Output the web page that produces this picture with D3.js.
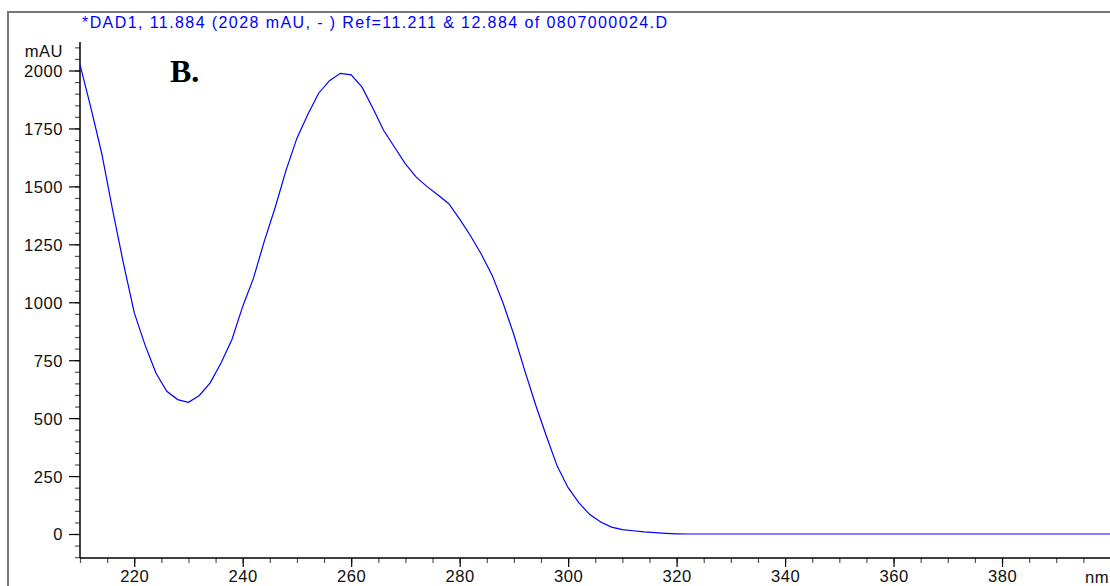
<!DOCTYPE html>
<html lang="en">
<head>
  <meta charset="UTF-8" />
  <title>DAD1 spectrum</title>
  <script src="https://d3js.org/d3.v7.min.js" charset="utf-8"></script>
  <style type="text/css">
  body { margin: 0; background: #fff; }
  svg {
    font-family: "Liberation Sans", Arial, sans-serif;
    display: block;
  }
  .lbl { font-size: 16.6px; letter-spacing: 0.5px; fill: #111; }
  .major line { stroke: #000; stroke-width: 1.2; }
  .minor line { stroke: #555; stroke-width: 1.2; }
  </style>
</head>
<body>
<script type="text/javascript">

// spectrum sampled every 2 nm, 210..400
var wavelengths = d3.range(210, 401, 2);
var absorbance = [
  2025, 1840, 1643, 1400, 1169, 955, 815, 695, 616, 580,
  568, 598, 652, 738, 838, 982, 1105, 1265, 1410, 1570,
  1708, 1810, 1902, 1956, 1988, 1981, 1928, 1837, 1741, 1669,
  1597, 1540, 1499, 1463, 1425, 1359, 1287, 1207, 1116, 997,
  860, 705, 558, 422, 292, 200, 134, 84, 52, 30,
  19, 14, 9, 6, 3, 1, 0, 0, 0, 0,
  0, 0, 0, 0, 0, 0, 0, 0, 0, 0,
  0, 0, 0, 0, 0, 0, 0, 0, 0, 0,
  0, 0, 0, 0, 0, 0, 0, 0, 0, 0,
  0, 0, 0, 0, 0, 0
];
var xTickLabels = [220, 240, 260, 280, 300, 320, 340, 360, 380];
var yTickLabels = [0, 250, 500, 750, 1000, 1250, 1500, 1750, 2000];
var titleText = "*DAD1, 11.884 (2028 mAU, - ) Ref=11.211 & 12.884 of 0807000024.D";

var width = 1110, height = 586;

var svg = d3.select("body").append("svg")
  .attr("width", width)
  .attr("height", height);

var x = d3.scaleLinear().domain([210, 400]).range([80, 1110.5]);
var y = d3.scaleLinear().domain([-103.5, 2123]).range([558, 42]);

// frame
svg.append("path")
  .attr("d", "M8,586 V12 H1110")
  .attr("fill", "none")
  .attr("stroke", "#777")
  .attr("stroke-width", 2);

// title
svg.append("text")
  .attr("x", 82)
  .attr("y", 27.5)
  .attr("textLength", 585)
  .attr("lengthAdjust", "spacing")
  .style("font-size", "16px")
  .style("fill", "#0000ff")
  .text(titleText);

// y axis
svg.append("g")
  .attr("class", "minor")
  .attr("transform", "translate(80,0)")
  .call(d3.axisLeft(y).tickValues(d3.range(-100, 2101, 50)).tickSize(5).tickFormat(""))
  .call(function(g) { g.select(".domain").remove(); });

svg.append("g")
  .attr("class", "major")
  .attr("transform", "translate(80,0)")
  .call(d3.axisLeft(y).tickValues(yTickLabels).tickSize(11).tickPadding(6).tickFormat(d3.format("d")))
  .call(function(g) {
    g.select(".domain").remove();
    g.selectAll("text").attr("class", "lbl").attr("dy", "0.36em").style("font-size", null);
  });

svg.append("line")
  .attr("x1", 80).attr("x2", 80)
  .attr("y1", y.range()[1]).attr("y2", y.range()[0])
  .attr("stroke", "#000").attr("stroke-width", 1.5);

// x axis
svg.append("g")
  .attr("class", "minor")
  .attr("transform", "translate(0,558)")
  .call(d3.axisBottom(x).tickValues(d3.range(210, 400, 5)).tickSize(5).tickFormat(""))
  .call(function(g) { g.select(".domain").remove(); });

svg.append("g")
  .attr("class", "major")
  .attr("transform", "translate(0,558)")
  .call(d3.axisBottom(x).tickValues(xTickLabels).tickSize(9).tickPadding(3.5).tickFormat(d3.format("d")))
  .call(function(g) {
    g.select(".domain").remove();
    g.selectAll("text").attr("class", "lbl").style("font-size", null);
  });

svg.append("line")
  .attr("x1", 80).attr("x2", 1110)
  .attr("y1", 558).attr("y2", 558)
  .attr("stroke", "#000").attr("stroke-width", 1.5);

// axis unit labels
svg.append("text").attr("class", "lbl")
  .attr("x", 63).attr("y", 57)
  .attr("text-anchor", "end")
  .text("mAU");

svg.append("text").attr("class", "lbl")
  .attr("x", 1085).attr("y", 583)
  .text("nm");

// panel letter
svg.append("text")
  .attr("x", 170).attr("y", 82)
  .style("font-family", "'Liberation Serif', 'Times New Roman', serif")
  .style("font-weight", "bold")
  .style("font-size", "32px")
  .text("B.");

// spectrum
var line = d3.line()
  .x(function(d, i) { return x(wavelengths[i]); })
  .y(function(d) { return y(d); });

svg.append("path")
  .datum(absorbance)
  .attr("fill", "none")
  .attr("stroke", "#0000ff")
  .attr("stroke-width", 1.2)
  .attr("d", line);

</script>
</body>
</html>
